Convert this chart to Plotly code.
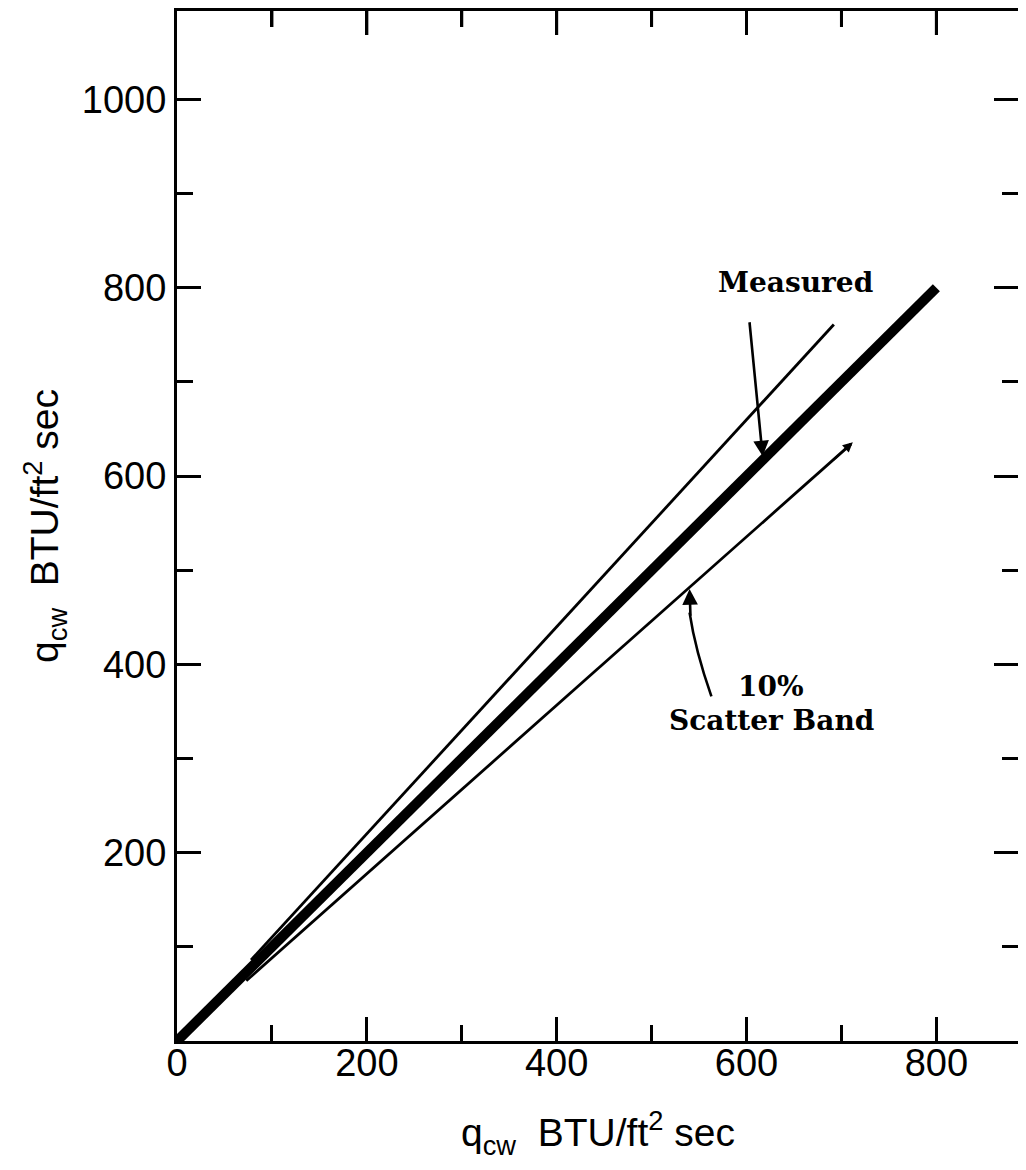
import plotly.graph_objects as go

# ---- data ----
measured_x = [0, 800]
measured_y = [0, 800]
upper_x = [78, 692]      # +10 % band line
upper_y = [86, 761]
lower_x = [73, 710]      # -10 % band line
lower_y = [64, 634]

x_tickvals = [0, 200, 400, 600, 800]
x_minor = [100, 300, 500, 700]
y_tickvals = [200, 400, 600, 800, 1000]
y_minor = [100, 300, 500, 700, 900]

label_measured = "Measured"
label_band = ["10%", "Scatter Band"]
measured_arrow = {"tail": (603, 765), "head": (617, 621)}
band_arrow = {"tail": (563, 366), "ctrl": (546, 415), "head": (540, 480)}
lower_end_arrow = {"tail": (690, 616), "head": (712, 636)}
text_measured_pos = (652, 806)
text_band_pos = [(626, 377), (626, 340)]

PLOT_H = 1154 - 3 - 121  # plot-area height in px

fig = go.Figure()
fig.add_trace(go.Scatter(x=upper_x, y=upper_y, mode="lines",
                         line=dict(color="black", width=2.8), showlegend=False))
fig.add_trace(go.Scatter(x=lower_x, y=lower_y, mode="lines",
                         line=dict(color="black", width=2.8), showlegend=False))
fig.add_trace(go.Scatter(x=measured_x, y=measured_y, mode="lines",
                         line=dict(color="black", width=10), showlegend=False))

serif = "DejaVu Serif"
fig.add_annotation(x=text_measured_pos[0], y=text_measured_pos[1], text="<b>%s</b>" % label_measured,
                   showarrow=False, font=dict(family=serif, size=28, color="black"))
for (tx, ty), t in zip(text_band_pos, label_band):
    fig.add_annotation(x=tx, y=ty, text="<b>%s</b>" % t, showarrow=False,
                       font=dict(family=serif, size=28, color="black"))

# measured arrow
fig.add_annotation(x=measured_arrow["head"][0], y=measured_arrow["head"][1],
                   ax=measured_arrow["tail"][0], ay=measured_arrow["tail"][1],
                   axref="x", ayref="y", xref="x", yref="y", text="",
                   showarrow=True, arrowhead=2, arrowsize=1.2, arrowwidth=2.6, arrowcolor="black")
# band arrow (curved)
t0, c0, h0 = band_arrow["tail"], band_arrow["ctrl"], band_arrow["head"]
fig.add_shape(type="path", xref="x", yref="y",
              path="M %g,%g Q %g,%g %g,%g" % (t0[0], t0[1], c0[0], c0[1], h0[0], h0[1] - 25),
              line=dict(color="black", width=2.6))
fig.add_annotation(x=h0[0], y=h0[1], ax=h0[0] + 1, ay=h0[1] - 30,
                   axref="x", ayref="y", xref="x", yref="y", text="",
                   showarrow=True, arrowhead=2, arrowsize=1.2, arrowwidth=2.6, arrowcolor="black")
# small arrowhead at end of lower line
fig.add_annotation(x=lower_end_arrow["head"][0], y=lower_end_arrow["head"][1],
                   ax=lower_end_arrow["tail"][0], ay=lower_end_arrow["tail"][1],
                   axref="x", ayref="y", xref="x", yref="y", text="",
                   showarrow=True, arrowhead=2, arrowsize=1.0, arrowwidth=2, arrowcolor="black")

# tick marks along the top frame edge (mirroring the x-axis ticks)
for v in x_tickvals[1:]:
    fig.add_shape(type="line", xref="x", yref="paper", x0=v, x1=v, y0=1, y1=1 - 24 / PLOT_H,
                  line=dict(color="black", width=3))
for v in x_minor:
    fig.add_shape(type="line", xref="x", yref="paper", x0=v, x1=v, y0=1, y1=1 - 16 / PLOT_H,
                  line=dict(color="black", width=3))

sans = "Liberation Sans"
title_txt = "q<sub>cw</sub>  BTU/ft<sup>2</sup> sec"
axis_common = dict(showline=True, linewidth=3, linecolor="black",
                   ticks="inside", ticklen=24, tickwidth=3, tickcolor="black",
                   showgrid=False, zeroline=False, automargin=False,
                   tickfont=dict(family=sans, size=38, color="black"))
fig.update_layout(
    xaxis=dict(range=[0, 886], tickvals=x_tickvals, mirror="allticks",
               minor=dict(tickvals=x_minor, ticks="inside", ticklen=16, tickwidth=3, tickcolor="black"),
               ticklabelstandoff=-14, **axis_common),
    yaxis=dict(range=[0, 1094], tickvals=y_tickvals, mirror="allticks",
               minor=dict(tickvals=y_minor, ticks="inside", ticklen=16, tickwidth=3, tickcolor="black"),
               ticklabelstandoff=0, **axis_common),
)

# axis titles
fig.add_annotation(xref="paper", yref="paper", x=0.5, y=-0.089, yanchor="middle",
                   text=title_txt, showarrow=False,
                   font=dict(family=sans, size=39, color="black"))
fig.add_annotation(xref="paper", yref="paper", x=-0.157, y=0.5, xanchor="center",
                   text=title_txt, textangle=-90, showarrow=False,
                   font=dict(family=sans, size=39, color="black"))

fig.update_layout(width=1010, height=1154, margin=dict(l=169, r=0, t=3, b=121),
                  paper_bgcolor="white", plot_bgcolor="white", showlegend=False)

fig.write_html("out.html")
